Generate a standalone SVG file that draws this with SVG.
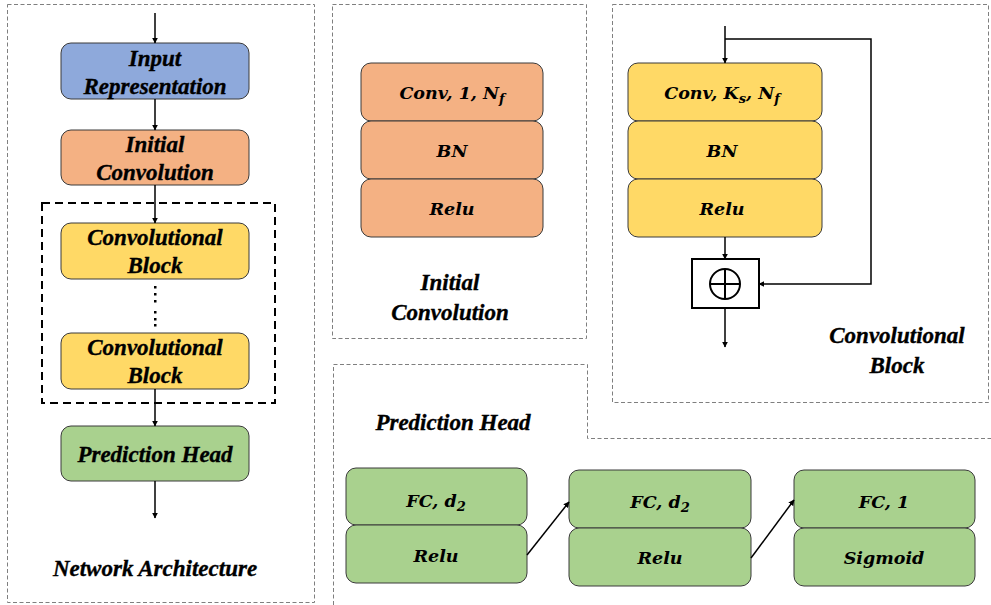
<svg xmlns="http://www.w3.org/2000/svg" width="991" height="605" viewBox="0 0 991 605">
  <defs>
    <style>
      .panel { fill: none; stroke: #7f7f7f; stroke-width: 1; stroke-dasharray: 4 2.5; }
      .group { fill: none; stroke: #000; stroke-width: 2; stroke-dasharray: 8 5; }
      .box { stroke: #3a3a3a; stroke-width: 1; }
      .blue { fill: #8EA9DB; }
      .orange { fill: #F4B183; }
      .yellow { fill: #FFD966; }
      .green { fill: #A9D18E; }
      .title { font-family: "Liberation Serif", "Times New Roman", serif; font-weight: bold; font-style: italic; font-size: 23px; fill: #000; stroke: #000; stroke-width: 0.35; text-anchor: middle; }
      .math { font-family: "DejaVu Serif", "Liberation Serif", serif; font-weight: bold; font-style: italic; font-size: 17.5px; fill: #000; text-anchor: middle; }
      .sub { font-size: 13px; }
      .wire { fill: none; stroke: #000; stroke-width: 1.5; }
    </style>
    <marker id="arrow" viewBox="0 0 10 10" refX="9" refY="5" markerWidth="6" markerHeight="6" markerUnits="userSpaceOnUse" orient="auto">
      <path d="M0,0 L10,5 L0,10 z" fill="#000"/>
    </marker>
  </defs>

  <!-- panel outlines -->
  <g id="panels">
    <rect class="panel" x="7.5" y="4.5" width="307" height="598"/>
    <rect class="panel" x="332.5" y="4.5" width="254" height="334"/>
    <rect class="panel" x="612.5" y="4.5" width="376" height="398"/>
    <path class="panel" d="M333.5,605 L333.5,364.5 L587.5,364.5 L587.5,438.5 L991,438.5"/>
  </g>

  <!-- network architecture column -->
  <g id="input-representation">
    <rect class="box blue" x="61" y="43" width="188" height="56" rx="10"/>
    <text class="title" x="155" y="66">Input</text>
    <text class="title" x="155" y="94">Representation</text>
  </g>
  <g id="initial-convolution">
    <rect class="box orange" x="61" y="130" width="188" height="55" rx="10"/>
    <text class="title" x="155" y="152">Initial</text>
    <text class="title" x="155" y="180">Convolution</text>
  </g>
  <g id="conv-group">
    <rect class="group" x="42" y="203" width="233" height="200"/>
  </g>
  <g id="conv-block-1">
    <rect class="box yellow" x="61" y="223" width="188" height="56" rx="10"/>
    <text class="title" x="155" y="245">Convolutional</text>
    <text class="title" x="155" y="273">Block</text>
  </g>
  <g id="ellipsis">
    <rect x="154" y="286" width="2.5" height="2.5"/>
    <rect x="154" y="293" width="2.5" height="2.5"/>
    <rect x="154" y="300" width="2.5" height="2.5"/>
    <rect x="154" y="311" width="2.5" height="2.5"/>
    <rect x="154" y="318" width="2.5" height="2.5"/>
    <rect x="154" y="324" width="2.5" height="2.5"/>
  </g>
  <g id="conv-block-2">
    <rect class="box yellow" x="61" y="333" width="188" height="56" rx="10"/>
    <text class="title" x="155" y="355">Convolutional</text>
    <text class="title" x="155" y="383">Block</text>
  </g>
  <g id="prediction-head">
    <rect class="box green" x="61" y="426" width="188" height="55" rx="10"/>
    <text class="title" x="155" y="462">Prediction Head</text>
  </g>
  <g id="label-network">
    <text class="title" x="155" y="576">Network Architecture</text>
  </g>

  <!-- initial convolution detail -->
  <g id="init-conv">
    <rect class="box orange" x="361" y="63" width="182" height="58" rx="10"/>
    <rect class="box orange" x="361" y="121" width="182" height="58" rx="10"/>
    <rect class="box orange" x="361" y="179" width="182" height="58" rx="10"/>
    <text class="math" x="452" y="99">Conv, 1, N<tspan class="sub" dy="4">f</tspan></text>
    <text class="math" x="452" y="157">BN</text>
    <text class="math" x="452" y="215">Relu</text>
  </g>
  <g id="label-initial">
    <text class="title" x="450" y="290">Initial</text>
    <text class="title" x="450" y="320">Convolution</text>
  </g>

  <!-- convolutional block detail -->
  <g id="conv-detail">
    <rect class="box yellow" x="628" y="63" width="194" height="58" rx="10"/>
    <rect class="box yellow" x="628" y="121" width="194" height="58" rx="10"/>
    <rect class="box yellow" x="628" y="179" width="194" height="58" rx="10"/>
    <text class="math" x="722" y="99">Conv, K<tspan class="sub" dy="4">s</tspan><tspan dy="-4">, N</tspan><tspan class="sub" dy="4">f</tspan></text>
    <text class="math" x="722" y="157">BN</text>
    <text class="math" x="722" y="215">Relu</text>
  </g>
  <g id="sum">
    <rect x="692" y="259" width="67" height="49" fill="#fff" stroke="#000" stroke-width="2"/>
    <circle cx="725" cy="284" r="15" fill="none" stroke="#000" stroke-width="2"/>
    <path d="M710,284 H740 M725,269 V299" stroke="#000" stroke-width="2"/>
  </g>
  <g id="label-conv-block">
    <text class="title" x="897" y="343">Convolutional</text>
    <text class="title" x="897" y="373">Block</text>
  </g>

  <!-- prediction head detail -->
  <g id="label-prediction">
    <text class="title" x="453" y="430">Prediction Head</text>
  </g>
  <g id="fc-1">
    <rect class="box green" x="346" y="468" width="181" height="57" rx="10"/>
    <rect class="box green" x="346" y="525" width="181" height="58" rx="10"/>
    <text class="math" x="436" y="507">FC, d<tspan class="sub" dy="4">2</tspan></text>
    <text class="math" x="436" y="562">Relu</text>
  </g>
  <g id="fc-2">
    <rect class="box green" x="569" y="470" width="182" height="58" rx="10"/>
    <rect class="box green" x="569" y="528" width="182" height="58" rx="10"/>
    <text class="math" x="660" y="508">FC, d<tspan class="sub" dy="4">2</tspan></text>
    <text class="math" x="660" y="564">Relu</text>
  </g>
  <g id="fc-3">
    <rect class="box green" x="794" y="470" width="181" height="58" rx="10"/>
    <rect class="box green" x="794" y="528" width="181" height="58" rx="10"/>
    <text class="math" x="884" y="508">FC, 1</text>
    <text class="math" x="884" y="564">Sigmoid</text>
  </g>

  <!-- connectors -->
  <g id="connectors">
    <line class="wire" x1="155" y1="13" x2="155" y2="43" marker-end="url(#arrow)"/>
    <line class="wire" x1="155" y1="99" x2="155" y2="130" marker-end="url(#arrow)"/>
    <line class="wire" x1="155" y1="185" x2="155" y2="223" marker-end="url(#arrow)"/>
    <line class="wire" x1="155" y1="389" x2="155" y2="426" marker-end="url(#arrow)"/>
    <line class="wire" x1="155" y1="481" x2="155" y2="518" marker-end="url(#arrow)"/>
    <line class="wire" x1="725" y1="26" x2="725" y2="63" marker-end="url(#arrow)"/>
    <polyline class="wire" points="725,39 871,39 871,284 759,284" marker-end="url(#arrow)"/>
    <line class="wire" x1="725" y1="237" x2="725" y2="259" marker-end="url(#arrow)"/>
    <line class="wire" x1="725" y1="308" x2="725" y2="347" marker-end="url(#arrow)"/>
    <line class="wire" x1="527" y1="555" x2="569" y2="502" marker-end="url(#arrow)"/>
    <line class="wire" x1="751" y1="558" x2="794" y2="500" marker-end="url(#arrow)"/>
  </g>
</svg>
